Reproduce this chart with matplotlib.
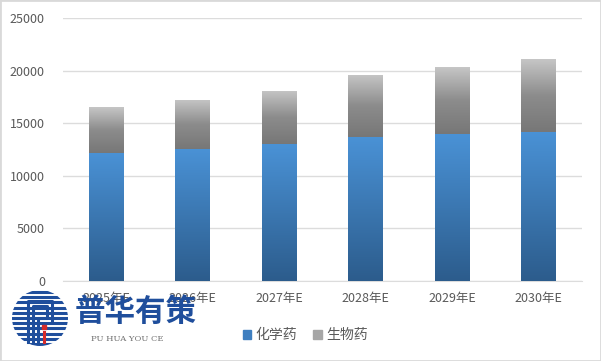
import numpy as np
import matplotlib
matplotlib.use('Agg')
import matplotlib.pyplot as plt
from matplotlib.colors import LinearSegmentedColormap
from matplotlib.patches import Patch, Circle, Rectangle

plt.rcParams['font.family'] = ['Noto Sans CJK SC', 'DejaVu Sans']

years = ['2025年E', '2026年E', '2027年E', '2028年E', '2029年E', '2030年E']
chem = [12200, 12550, 13000, 13700, 13950, 14200]
bio = [4300, 4700, 5100, 5900, 6350, 6900]
series_names = ['化学药', '生物药']

W, H = 601, 361
fig = plt.figure(figsize=(W / 100, H / 100), dpi=100)
ax = fig.add_axes([63 / W, (H - 281) / H, 519 / W, 263 / H])

x = np.arange(len(years))
b1 = ax.bar(x, chem, width=0.4, color='none', edgecolor='none', zorder=3)
b2 = ax.bar(x, bio, width=0.4, bottom=chem, color='none', edgecolor='none', zorder=3)

# gradient fill, light at top -> dark at bottom
blue_cm = LinearSegmentedColormap.from_list('b', ['#2c5c8c', '#4a92d6'])
gray_cm = LinearSegmentedColormap.from_list('g', ['#777777', '#8c8c8c', '#c6c6c6'])
grad = np.linspace(0, 1, 256).reshape(-1, 1)
for bars, cm in ((b1, blue_cm), (b2, gray_cm)):
    for p in bars:
        x0, y0 = p.get_x(), p.get_y()
        im = ax.imshow(grad, cmap=cm, origin='lower', aspect='auto',
                       extent=(x0, x0 + p.get_width(), y0, y0 + p.get_height()), zorder=3)
        im.set_clip_path(p)

ax.set_xlim(-0.5, len(years) - 0.5)
ax.set_ylim(0, 25000)
ax.set_yticks(range(0, 25001, 5000))
ax.set_xticks(x)
ax.set_xticklabels(years)
ax.grid(axis='y', color='#dcdcdc', lw=1, zorder=0)
for s in ['top', 'right', 'left']:
    ax.spines[s].set_visible(False)
ax.spines['bottom'].set_color('#dcdcdc')
ax.tick_params(length=0, colors='#595959', labelsize=9)
ax.tick_params(axis='y', pad=13)
ax.tick_params(axis='x', pad=8)

handles = [Patch(color='#3f7fc0'), Patch(color='#a6a6a6')]
fig.legend(handles, series_names, loc='center', bbox_to_anchor=(305 / W, 1 - 335 / H),
           ncol=2, frameon=False, handlelength=0.6, handleheight=0.6, handletextpad=0.3,
           columnspacing=1.2, prop={'size': 10}, labelcolor='#595959')

# watermark logo, drawn in pixel coordinates on an overlay axes
lg = fig.add_axes([0, 0, 1, 1], zorder=10)
lg.set_xlim(0, W)
lg.set_ylim(H, 0)
lg.axis('off')
navy = '#1f4e9c'
clip = Circle((40, 318), 28, transform=lg.transData, facecolor='white', edgecolor='none')
lg.add_patch(clip)
for yy in np.arange(292, 346, 5.2):
    ln, = lg.plot([10, 70], [yy, yy], color=navy, lw=2.2, solid_capstyle='butt')
    ln.set_clip_path(clip)
lg.add_patch(Rectangle((25, 298), 30, 44, facecolor='white', edgecolor='none'))
lg.plot([28, 28, 52, 52], [342, 301, 301, 322], color=navy, lw=2.2)
lg.plot([33, 33, 47, 47, 38, 38], [342, 306, 306, 318, 318, 342], color=navy, lw=2.2)
lg.plot([44, 44], [332, 342], color='#d42a2a', lw=2.2)
lg.plot([44], [327], 's', color='#d42a2a', ms=2.5)
lg.text(136, 312, '普华有策', color=navy, fontsize=22, fontweight='bold',
        ha='center', va='center')
lg.text(127, 339, 'PU HUA YOU CE', color='#707070', fontsize=6,
        family='DejaVu Serif', ha='center', va='center')

fig.patches.append(Rectangle((0, 0), 1, 1, transform=fig.transFigure, fill=False,
                             edgecolor='#d9d9d9', lw=2))

fig.savefig('out.png', dpi=100)
